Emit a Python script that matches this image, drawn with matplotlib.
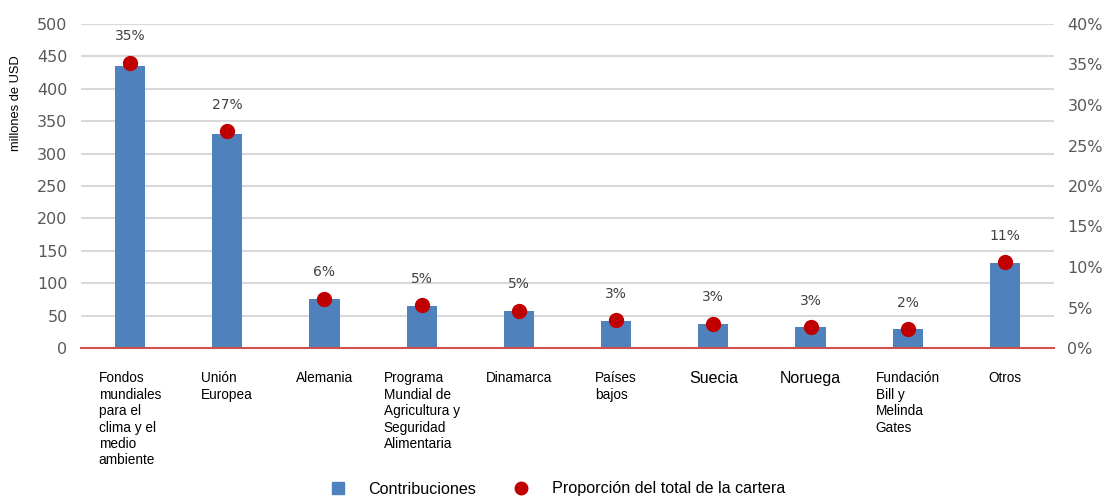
import matplotlib
matplotlib.use('Agg')
import matplotlib.pyplot as plt
from matplotlib.lines import Line2D
import numpy as np

# datos
categorias = ['Fondos\nmundiales\npara el\nclima y el\nmedio\nambiente',
              'Unión\nEuropea', 'Alemania',
              'Programa\nMundial de\nAgricultura y\nSeguridad\nAlimentaria',
              'Dinamarca', 'Países\nbajos', 'Suecia', 'Noruega',
              'Fundación\nBill y\nMelinda\nGates', 'Otros']
contribuciones = [435, 330, 75, 65, 57, 42, 37, 32, 29, 131]
proporcion = [35.2, 26.8, 6.1, 5.3, 4.6, 3.4, 3.0, 2.6, 2.3, 10.6]
etiquetas = ['35%', '27%', '6%', '5%', '5%', '3%', '3%', '3%', '2%', '11%']
tam_etiqueta = [9.8, 9.8, 9.8, 9.8, 9.8, 9.8, 11.5, 11.5, 9.8, 9.8]

azul = '#4F81BD'
rojo = '#C00000'
gris = '#595959'

fig = plt.figure(figsize=(11.07, 4.97), dpi=100)
ax = fig.add_axes([81.4/1107, 1-348/497, (1053.6-81.4)/1107, (348-24)/497])
x = np.arange(len(categorias))

ax.set_ylim(0, 500)
ax.set_xlim(-0.5, len(categorias)-0.5)
ax.set_yticks(np.arange(0, 501, 50))
for v in np.arange(50, 501, 50):
  ax.axhline(v, color='#D9D9D9', lw=1.5, zorder=0)
ax.bar(x, contribuciones, width=0.31, color=azul, zorder=2)
ax.set_xticks([])
for s in ax.spines.values():
  s.set_visible(False)
ax.tick_params(axis='y', length=0, pad=10, labelsize=11.5, labelcolor=gris)

ax2 = ax.twinx()
ax2.set_ylim(0, 40)
ax2.set_yticks(np.arange(0, 41, 5))
ax2.set_yticklabels([f'{v}%' for v in range(0, 41, 5)])
for s in ax2.spines.values():
  s.set_visible(False)
ax2.tick_params(axis='y', length=0, pad=10, labelsize=11.5, labelcolor=gris)
ax2.axhline(0, color='#D0504D', lw=1.5, zorder=3, clip_on=False)
ax2.plot(x, proporcion, 'o', color=rojo, ms=10, zorder=4)
for xi, p, t in zip(x, proporcion, etiquetas):
  ax2.annotate(t, (xi, p), xytext=(0, 19), textcoords='offset points',
               ha='center', va='center', fontsize=10, color='#404040')

# etiquetas de categorias
for xi, c, fs in zip(x, categorias, tam_etiqueta):
  ax.text(xi, -0.072, c, transform=ax.get_xaxis_transform(), ha='center', va='top',
          multialignment='left', fontsize=fs, family='Liberation Sans',
          linespacing=1.22, color='black')

fig.text(16/1107, 1-103/497, 'millones de USD', rotation=90, ha='center', va='center',
         fontsize=9.3, family='Liberation Sans')

handles = [Line2D([], [], marker='s', color=azul, ls='none', ms=8),
           Line2D([], [], marker='o', color=rojo, ls='none', ms=9)]
fig.legend(handles, ['Contribuciones', 'Proporción del total de la cartera'],
           loc='center', bbox_to_anchor=(0.5, 1-489/497), ncol=2, frameon=False,
           prop={'family': 'Liberation Sans', 'size': 11.6}, columnspacing=1.8,
           handletextpad=0.9, borderpad=0.1)

fig.savefig('out.png', dpi=100)
